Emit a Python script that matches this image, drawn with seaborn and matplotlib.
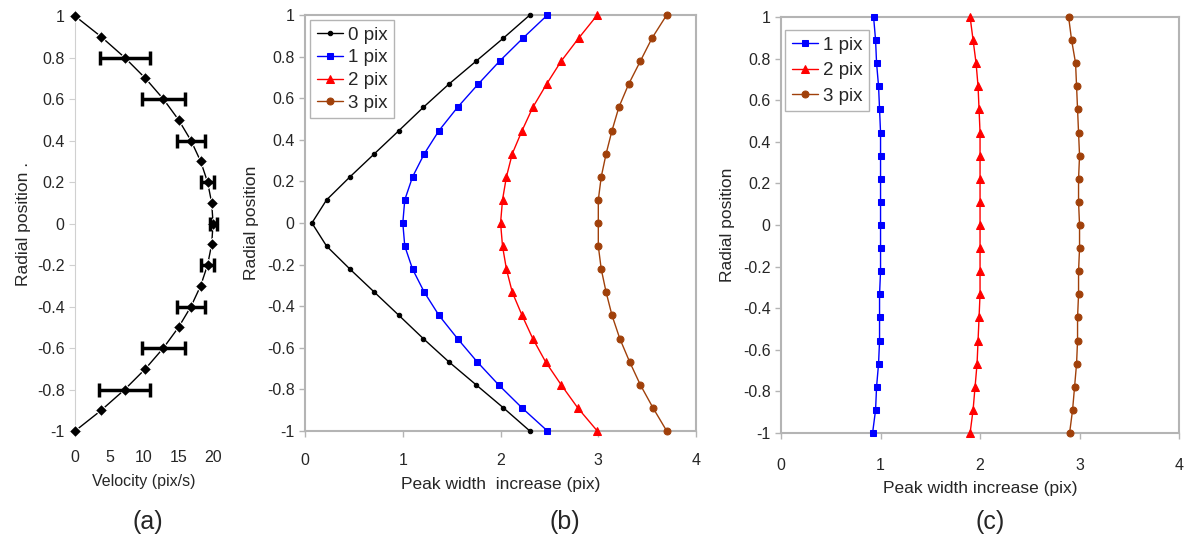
#!/usr/bin/env python3
"""Velocity profile and peak width increase vs radial position, panels (a)-(c)."""

import matplotlib
matplotlib.use("Agg")
import matplotlib.pyplot as plt
import pandas as pd
import seaborn as sns

# Panel (a): velocity profile
RADIAL_A = [1.0, 0.9, 0.8, 0.7, 0.6, 0.5, 0.4, 0.3, 0.2, 0.1, 0.0,
            -0.1, -0.2, -0.3, -0.4, -0.5, -0.6, -0.7, -0.8, -0.9, -1.0]
VELOCITY = [0.0, 3.8, 7.2, 10.2, 12.8, 15.0, 16.8, 18.2, 19.2, 19.8, 20.0,
            19.8, 19.2, 18.2, 16.8, 15.0, 12.8, 10.2, 7.2, 3.8, 0.0]
ERR_RADIAL = [0.8, 0.6, 0.4, 0.2, 0.0, -0.2, -0.4, -0.6, -0.8]
ERR_VELOCITY = [7.2, 12.8, 16.8, 19.2, 20.0, 19.2, 16.8, 12.8, 7.2]
ERR_SIZE = [3.6, 3.1, 2.0, 1.0, 0.5, 1.0, 2.0, 3.1, 3.7]

# Panels (b) and (c): 19 radial positions
RADIAL = [1.0, 0.889, 0.778, 0.667, 0.556, 0.444, 0.333, 0.222, 0.111, 0.0,
          -0.111, -0.222, -0.333, -0.444, -0.556, -0.667, -0.778, -0.889, -1.0]

B_0PIX = [2.30, 2.03, 1.75, 1.47, 1.21, 0.96, 0.71, 0.46, 0.22, 0.07,
          0.22, 0.46, 0.71, 0.96, 1.21, 1.47, 1.75, 2.03, 2.30]
B_1PIX = [2.48, 2.23, 1.99, 1.77, 1.56, 1.37, 1.22, 1.10, 1.02, 1.00,
          1.02, 1.10, 1.22, 1.37, 1.56, 1.76, 1.98, 2.22, 2.48]
B_2PIX = [2.99, 2.80, 2.62, 2.47, 2.33, 2.22, 2.12, 2.06, 2.02, 2.00,
          2.02, 2.06, 2.12, 2.22, 2.33, 2.46, 2.62, 2.79, 2.99]
B_3PIX = [3.70, 3.55, 3.43, 3.31, 3.21, 3.14, 3.08, 3.03, 3.00, 3.00,
          3.00, 3.03, 3.08, 3.14, 3.22, 3.32, 3.43, 3.56, 3.70]

C_1PIX = [0.93, 0.95, 0.96, 0.98, 0.99, 1.00, 1.00, 1.00, 1.00, 1.00,
          1.00, 1.00, 0.99, 0.99, 0.99, 0.98, 0.96, 0.95, 0.92]
C_2PIX = [1.90, 1.93, 1.96, 1.98, 1.99, 2.00, 2.00, 2.00, 2.00, 2.00,
          2.00, 2.00, 2.00, 1.99, 1.98, 1.97, 1.95, 1.93, 1.90]
C_3PIX = [2.89, 2.92, 2.96, 2.97, 2.98, 2.99, 3.00, 2.99, 2.99, 3.00,
          3.00, 2.99, 2.99, 2.98, 2.98, 2.97, 2.95, 2.93, 2.90]

STYLES = {
    "0 pix": dict(color="black", marker="o", markersize=3.2),
    "1 pix": dict(color="#0000ff", marker="s", markersize=4.8),
    "2 pix": dict(color="#ff0000", marker="^", markersize=5.2),
    "3 pix": dict(color="#a0400a", marker="o", markersize=5.0),
}
FRAME = "#b4b4b4"

sns.set_style("white")
plt.rcParams["font.family"] = ["Liberation Sans", "DejaVu Sans"]
plt.rcParams["font.size"] = 11


def style_box(ax):
    for sp in ax.spines.values():
        sp.set_color(FRAME)
        sp.set_linewidth(1.5)
    ax.tick_params(axis="both", which="both", length=4, width=1, color=FRAME,
                   direction="out", labelsize=11.5, bottom=True, left=True)


def draw_series(ax, series, anchor, spacing=0.3):
    for name, xs in series:
        df = pd.DataFrame({"width": xs, "radial": RADIAL})
        st = STYLES[name]
        sns.lineplot(x="width", y="radial", data=df, ax=ax, sort=False,
                     estimator=None, color=st["color"], marker=st["marker"],
                     markersize=st["markersize"], markeredgecolor=st["color"],
                     linewidth=1.0, label=name, clip_on=False, zorder=3)
    ax.set_xlim(0, 4)
    ax.set_ylim(-1, 1)
    ax.set_xticks([0, 1, 2, 3, 4])
    ax.set_yticks([-1, -0.8, -0.6, -0.4, -0.2, 0, 0.2, 0.4, 0.6, 0.8, 1])
    ax.set_yticklabels(["-1", "-0.8", "-0.6", "-0.4", "-0.2", "0", "0.2",
                        "0.4", "0.6", "0.8", "1"])
    ax.legend(loc="upper left", bbox_to_anchor=anchor, fancybox=False,
              edgecolor=FRAME, fontsize=13.5, handlelength=1.4,
              handletextpad=0.25, borderpad=0.35, labelspacing=spacing,
              framealpha=1, borderaxespad=0)
    style_box(ax)


def main():
    fig = plt.figure(figsize=(11.87, 5.54), dpi=100)
    ax_a = fig.add_axes([0.0632, 0.222, 0.1163, 0.749])
    ax_b = fig.add_axes([0.257, 0.222, 0.3294, 0.751])
    ax_c = fig.add_axes([0.658, 0.2184, 0.3353, 0.751])

    # Panel (a)
    df_a = pd.DataFrame({"velocity": VELOCITY, "radial": RADIAL_A})
    sns.lineplot(x="velocity", y="radial", data=df_a, ax=ax_a, sort=False,
                 estimator=None, color="black", marker="D", markersize=6,
                 linewidth=1.0, clip_on=False, zorder=3)
    ax_a.errorbar(ERR_VELOCITY, ERR_RADIAL, xerr=ERR_SIZE, fmt="none",
                  ecolor="black", elinewidth=2.5, capsize=5, capthick=2.5,
                  clip_on=False, zorder=4)
    ax_a.set_xlim(0, 20)
    ax_a.set_ylim(-1, 1)
    ax_a.set_xticks([0, 5, 10, 15, 20])
    ax_a.set_yticks([-1, -0.8, -0.6, -0.4, -0.2, 0, 0.2, 0.4, 0.6, 0.8, 1])
    ax_a.set_yticklabels(["-1", "-0.8", "-0.6", "-0.4", "-0.2", "0", "0.2",
                          "0.4", "0.6", "0.8", "1"])
    for side in ("top", "right", "bottom"):
        ax_a.spines[side].set_visible(False)
    ax_a.spines["left"].set_color("#d0d0d0")
    ax_a.tick_params(axis="y", length=4, color="#d0d0d0", labelsize=11.5, left=True)
    ax_a.tick_params(axis="x", length=0, labelsize=11.5, pad=14)
    ax_a.set_xlabel("Velocity (pix/s)", fontsize=11.5, labelpad=6)
    ax_a.set_ylabel("Radial position .", fontsize=12.5, labelpad=4)

    # Panel (b)
    draw_series(ax_b, [("0 pix", B_0PIX), ("1 pix", B_1PIX),
                       ("2 pix", B_2PIX), ("3 pix", B_3PIX)],
                anchor=(0.013, 0.988))
    ax_b.tick_params(axis="x", pad=12)
    ax_b.set_xlabel("Peak width  increase (pix)", fontsize=12.5, labelpad=6)
    ax_b.set_ylabel("Radial position", fontsize=12.5, labelpad=6)

    # Panel (c)
    draw_series(ax_c, [("1 pix", C_1PIX), ("2 pix", C_2PIX),
                       ("3 pix", C_3PIX)], anchor=(0.01, 0.969), spacing=0.45)
    ax_c.tick_params(axis="x", pad=14)
    ax_c.set_xlabel("Peak width increase (pix)", fontsize=12.5, labelpad=6)
    ax_c.set_ylabel("Radial position", fontsize=12.5, labelpad=6)

    # Panel letters
    for x, letter in ((148, "(a)"), (565, "(b)"), (990, "(c)")):
        fig.text(x / 1187, 1 - 522 / 554, letter, ha="center", va="center",
                 fontsize=18)

    fig.savefig("out.png", dpi=100)
    plt.close(fig)


if __name__ == "__main__":
    main()
